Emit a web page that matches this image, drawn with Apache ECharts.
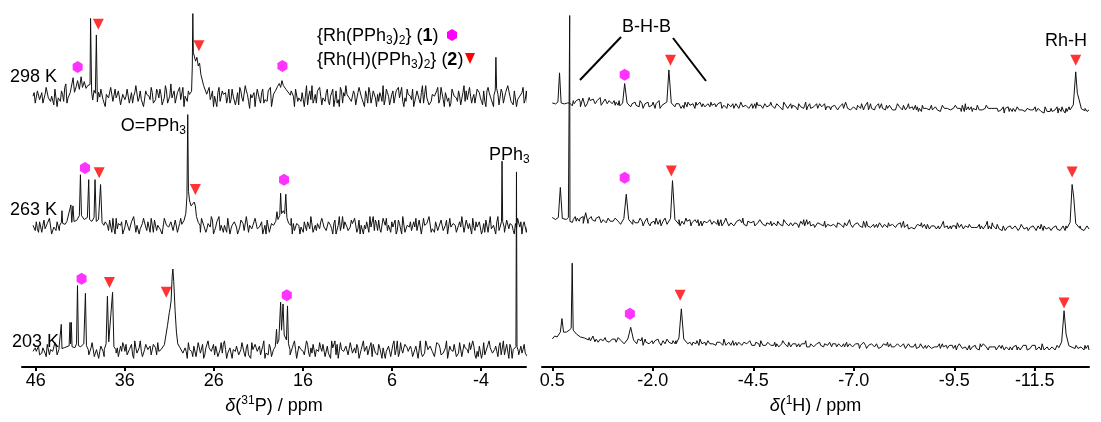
<!DOCTYPE html>
<html><head><meta charset="utf-8">
<script src="https://cdn.jsdelivr.net/npm/echarts@6/dist/echarts.min.js"></script>
<style>html,body{margin:0;padding:0;background:#fff}#c{width:1101px;height:422px}</style>
</head><body><div id="c"></div>
<script>
// ---------------- data ----------------
const pTicks = [46, 36, 26, 16, 6, -4];
const hTicks = [0.5, -2.0, -4.5, -7.0, -9.5, -11.5];
const pRange = [-9.05, 47.54];
const hRange = [-12.85, 0.756];
const pSpan = [46.3, -9.95];
const hSpan = [0.5, -12.85];
const tempLabels = ['298 K', '263 K', '203 K'];

// baseline noise, one char per point ('h' = 0); "b" strings sit between the "a" points
const noiseP298a = "hdkfjcmgeilbhkeogjdhmfcjkgeinhdlfbjhmegkcifldjhnekgbihmdfjlcgkeohdjmfbikgehlcjndgfkhbmeijgdlhfckeniagjhmdlfekbhjgcmifdkhlegjbnhfdikmcgjehlfdbkjnhgeicmhfkdjglbehnfjcidkmhegljfbhkdnigcejhmflbkgdjiehcnkfhgdljekbmhfigcldjnhekbgimfdhjl";
const noiseP298b = "jekgdilfhckgeimdhjfblhdkgejnfchkdigmelfjcihkedjmgfbkhfjdlgiendhgkcjfmheigldhkcjfmhbgjekidlfhcjmgdkeihblfjdgkmciegkhdjflbmgeihcknfdjhgelcjbkfmdhigekcjlfbhmdkgijeclhfkdjgmbeihlckfjdngcihkdmfjeblhgkcjefmdihlgcekjfbmhdjgikeclfhjdkgemb";
const noiseP263a = "hefjdkgilchjemfgdkiheljgcikfhdmgejhkdflihcgkejmdhfikegldjhfclhgjekdimfhejgckflhdigkejmhdflchjgekidmhfjlegchkdigmfhejdklifhcgjekmdhiflgejhckdmhfjegildkhcfjmgeikdlhegjfckimdhgejlfkchimdgjehlfkcgihejmdkfhlegjcikdmfhjegldkihcfmjhgekdl";
const noiseP263b = "gjdkhfilcgejhkdmgfidhklegcjfimdhgkejlcfhjdkgeimhcflgjdhkeifcmhgkdjelfichjgekdlhfjmcgkeihdlfhjcgkemdihlfgjdckeimhdgjfklceihgdkjfmcehjlgdkfichemjgdkhlfcihjdgmkefcjlhdgkeicmfhjdgekclhimfdjgkehclfjdhgmekicgjhkedlifhcmgjdkfheilgcjdkmfh";
const noiseP203a = "gihefjdkhgleicjhfmgdkigehjfldhcjgkeimhfdjlgehkcifmdhjgekilfhcgjdmhekifglhdjekfcimhgejdlkhficgjehmdkflhigejcfkdmhgjeilfdkhcjgemfikdhlgjefcimkdhgjelfikchmgejdlfkhicgjemhdlfkighejcmdflhjgekidfmchgjeldkifhmegjcldkifhgjemdlkcigejhfdkml";
const noiseP203b = "hgjdifkeghjdkhgleicfhkgdjeimfhgjdkhfleicgjkdhemfigdkhjfleghcijgkdhmefichgjdlfkehigkjdhfmcejhgkdlfiechkgjdmfeichljgdkfeimcjhgekdflhgikdjfmheclghjdkefichgjdlkfeichgjdkemfhilgjdhkcfemhjgdlkeficjgkdfmeihlgjcdkfeimhgjdlfekcihgjdfkeml";
const noiseH298a = "lkmjlikmjlkjlmkjmiklkliknjkmjljlkigjlhikjkihljhikgiljkgihjlhjgjikhgjkihjkikhigjhiihjkgihjihgjihkgiihjhgihjgkhiihgjhhkighgjhfihgkhjfhigjhgfihhgjfhigkghfhgihjfgkhgfhigjhfgihgfjhgifhggfihgegfhfighfgfjfghfgigfehjgfhgfifefgjfghfgefhgfefgehfgfegfefhfgefhefgefhgefdehfgehgfegef";
const noiseH298b = "jmkilnjkmlljkmikljnkmjlkikmjlkkijlhkjmihikjhlgjkhikgilhjikgjihkjgikhjhjgihkjhgikhjgikhjgihjhigkhijghgjkhigjhikhgjihfkhgjihgjhgifhghgjfigjhgfgihfhjgihfghfjgihgfjhfgjhgfighfghigfhgjfhgfegifghefghgeighffgfhfgiefhgegfhgfeigffghefgdfhgegfhefgefffgeghfdgfeefgdfhegefegfedgfhee";
const noiseH263a = "mlkmjlnkjllkjmlkjnklkjlkmjkiljkiljkhjlikjkhiljhkigijlhkgijhlhkjigjhlikihjkhgjihkhjikhgiljhighjkihgjihjgiklhgihgihjhgkihghgjhfikghjghfijhgfhifhgijgfhgkgfhighjfghfhgfijghfggifhgfjghffgehgifghegfhfegjfgfefgifhegfhfgefhgefjgegfhefgdfgfegfdhgefeegfeghdfefdfgefegdfefedgfefdge";
const noiseH263b = "lmjkmlkjnlkmljkmlkjmljkmikljkjjlkihkjlijkijhkgjlhijhkigjlhikijhkgihjkghkigjhkihjijhgkhijgihgjiklhgjiighjkhgihjhjgihgkhgigihfjhgkhghfgihgjfhgghfjhgigfhfhgigfhjgfgfhgjfhgifhgfgihfgefgefhgfhegffgegfhfgeggfehfgegfhefgfegfhefi" + "fegfdgefgeegdfgefdfgfdgefgedfeegfdefgdefdfegfdefge";
const noiseH203a = "kljkmjlkijkmjlkjlkjmjlkikljjkikjilkjhkjiijhkjlhijgjhikjgihkjhijgkihjhigihjkhigjhihgjihkghihgihjgihgjghihfjhgihhgfighjgfhgihgfhgjgfhfghigfhgifghgifhgfhgfhgefigfhhgfgefhgiffgehgfhefggfhefgegfhefgfhefgegfegfhgefdgefgedfhgefgefdgefegdefgdfegfdedfgefdgefdefdgefdegfdfegdfeged";
const noiseH203b = "ljkmkljkjlmkjlkmjklikjlikjlkijjkhljikjhkjhikjgkjhihjkigjhkijjhgikhjighihjgkhigjhhgijhgkhigjhgihgjhgihgihjgfhiggihfgjhgifhgfhgihfghgfhigfhgfihgfhgefighfgihgfhegfgfhefgigfhefghfegfhffgefhgfeggefgfehfgefgedfgefgedfgefhegfdefgdefgdfefdegfdefgdegfdeghdefdfedgfedfeedfgedfdeg";

// peaks: groups of [ppm, height above baseline], each in descending ppm
const peaksP298 = [
  [[41.95,2],[41.8,19],[41.65,4],[41.45,10],[41.3,16],[41.1,7],[40.9,20],[40.75,9],[40.55,15],[40.35,8],[40.15,11],[40.0,9],[39.9,12],[39.84,80],[39.72,4],[39.6,-4],[39.45,6],[39.3,3],[39.19,63],[39.08,-6],[38.95,4],[38.8,-1]],
  [[28.7,1],[28.5,5],[28.42,30],[28.36,85],[28.3,45],[28.2,43],[28.05,36],[27.9,40],[27.75,31],[27.6,34],[27.45,22],[27.3,20],[27.15,11],[27.0,9],[26.8,2],[26.6,0]],
  [[19.3,2],[19.05,6],[18.85,10],[18.65,13],[18.5,9],[18.35,16],[18.3,18],[18.2,11],[18.05,13],[17.9,7],[17.7,5],[17.4,1]],
  [[-5.45,1],[-5.6,6],[-5.67,40],[-5.75,8],[-5.9,2]]
];
const peaksP263 = [
  [[43.3,0],[43.12,3],[43.05,15],[42.98,2],[42.7,1],[42.5,4],[42.3,2],[42.05,21],[41.95,3],[41.82,20],[41.7,4],[41.4,5],[41.1,10],[40.98,52],[40.86,10],[40.55,6],[40.2,8],[40.05,47],[39.95,6],[39.7,4],[39.45,8],[39.34,47],[39.2,4],[38.95,6],[38.72,42],[38.55,3],[38.35,0]],
  [[29.6,1],[29.35,5],[29.15,12],[29.02,30],[28.93,114],[28.85,35],[28.72,25],[28.55,20],[28.38,18],[28.2,24],[28.08,20],[27.95,9],[27.75,3],[27.55,0]],
  [[19.3,0],[19.05,4],[18.91,14],[18.8,6],[18.6,10],[18.5,33],[18.4,12],[18.2,15],[18.05,12],[17.92,32],[17.8,8],[17.6,2],[17.35,0]],
  [[-6.15,0],[-6.3,4],[-6.36,66],[-6.43,4],[-6.6,-2]]
];
const peaksP203 = [
  [[43.4,0],[43.2,2],[43.13,26],[43.05,1],[42.8,2],[42.5,3],[42.25,4],[42.15,28],[42.08,6],[42.0,28],[41.92,3],[41.6,2],[41.42,6],[41.31,66],[41.2,4],[40.95,3],[40.6,6],[40.42,58],[40.3,4],[40.1,0]],
  [[38.3,0],[38.1,6],[37.95,55],[37.8,8],[37.6,6],[37.37,59],[37.22,3],[37.0,0]],
  [[31.8,0],[31.55,5],[31.45,11],[31.2,25],[31.0,38],[30.92,42],[30.8,50],[30.68,75],[30.6,83],[30.5,70],[30.35,40],[30.2,18],[30.05,6],[29.8,2],[29.6,0]],
  [[19.3,0],[19.1,3],[18.96,21],[18.88,6],[18.7,10],[18.5,49],[18.4,20],[18.23,47],[18.1,15],[17.85,10],[17.73,45],[17.62,6],[17.45,0]],
  [[-7.8,0],[-7.92,3],[-7.98,183],[-8.04,3],[-8.2,-2]]
];
const peaksH298 = [
  [[0.5,4],[0.42,3],[0.36,5],[0.32,35],[0.28,4],[0.2,3],[0.12,4],[0.07,4],[0.0,1]],
  [[-0.2,0],[-0.26,9],[-0.32,0]],
  [[-1.18,1],[-1.25,4],[-1.30,24],[-1.36,4],[-1.45,0]],
  [[-2.28,0],[-2.35,5],[-2.40,38],[-2.46,4],[-2.55,0]],
  [[-12.38,-4],[-12.46,2],[-12.52,36],[-12.56,14],[-12.6,8],[-12.66,-2],[-12.75,-4]]
];
const peaksH263 = [
  [[0.5,7],[0.42,5],[0.35,7],[0.3,38],[0.25,6],[0.15,5],[0.1,7],[0.075,5],[0.067,215],[0.06,3],[0.0,2]],
  [[-0.27,1],[-0.33,12],[-0.39,1]],
  [[-1.2,0],[-1.28,6],[-1.34,31],[-1.4,5],[-1.5,0]],
  [[-2.36,0],[-2.44,6],[-2.49,45],[-2.55,5],[-2.65,0]],
  [[-12.3,-4],[-12.38,2],[-12.43,41],[-12.47,28],[-12.52,1],[-12.62,-4]]
];
const peaksH203 = [
  [[0.5,5],[0.44,8],[0.38,7],[0.3,12],[0.26,26],[0.22,12],[0.15,12],[0.08,14],[0.03,16],[0.005,83],[-0.02,14],[-0.1,10],[-0.2,7],[-0.3,6],[-0.4,4]],
  [[-0.45,3],[-0.51,8],[-0.56,2]],
  [[-1.3,0],[-1.38,5],[-1.45,17],[-1.52,4],[-1.6,0]],
  [[-2.58,0],[-2.65,6],[-2.71,36],[-2.77,5],[-2.87,0]],
  [[-12.1,-4],[-12.17,2],[-12.23,34],[-12.28,10],[-12.35,-2],[-12.45,-4]]
];

// markers: [ppm, height above baseline]
const hexP298 = [[41.29,30],[18.30,31]];
const triP298 = [[38.97,74],[27.67,52]];
const hexP263 = [[40.47,59],[18.12,47]];
const triP263 = [[38.87,54],[28.07,37]];
const hexP203 = [[40.85,73],[17.81,56]];
const triP203 = [[37.72,69],[31.34,59]];
const hexH298 = [[-1.30,33]];
const triH298 = [[-2.44,48],[-12.52,48]];
const hexH263 = [[-1.30,48]];
const triH263 = [[-2.46,55],[-12.43,54]];
const hexH203 = [[-1.43,31]];
const triH203 = [[-2.68,50],[-12.23,42]];

// ---------------- layout ----------------
const AXIS_Y = 378;
const baseP = [99, 232, 360];   // baseline pixel rows (layout)
const baseH = [110, 231, 354];
const noiseGain = [1.8, 1.6];   // noise amplitude per panel (px per step)
const FONT = 'Liberation Sans, Arial, sans-serif';

function buildTrace(noiseA, noiseB, span, groups, basePx, gain) {
  const n = noiseA.length;
  const step = (span[0] - span[1]) / (n - 1);
  const off = AXIS_Y - basePx;
  const inGroup = x => groups.some(g => x <= g[0][0] && x >= g[g.length - 1][0]);
  const pts = [];
  for (let i = 0; i < n; i++) {
    const x = span[0] - i * step;
    if (!inGroup(x)) pts.push([x, (noiseA.charCodeAt(i) - 104) * gain]);
  }
  for (let i = 0; i < noiseB.length && i < n - 1; i++) {
    const x = span[0] - (i + 0.5) * step;
    if (!inGroup(x)) pts.push([x, (noiseB.charCodeAt(i) - 104) * gain]);
  }
  groups.forEach(g => g.forEach(p => pts.push([p[0], p[1]])));
  pts.sort((a, b) => b[0] - a[0]);
  return pts.map(p => [p[0], p[1] + off]);
}
function placeMarks(arr, basePx) {
  const off = AXIS_Y - basePx;
  return arr.map(p => [p[0], p[1] + off]);
}

const traces = [
  [noiseP298a, noiseP298b, pSpan, peaksP298, baseP[0], 0],
  [noiseP263a, noiseP263b, pSpan, peaksP263, baseP[1], 0],
  [noiseP203a, noiseP203b, pSpan, peaksP203, baseP[2], 0],
  [noiseH298a, noiseH298b, hSpan, peaksH298, baseH[0], 1],
  [noiseH263a, noiseH263b, hSpan, peaksH263, baseH[1], 1],
  [noiseH203a, noiseH203b, hSpan, peaksH203, baseH[2], 1]
];
const hexSets = [[hexP298, baseP[0], 0], [hexP263, baseP[1], 0], [hexP203, baseP[2], 0], [hexH298, baseH[0], 1], [hexH263, baseH[1], 1], [hexH203, baseH[2], 1]];
const triSets = [[triP298, baseP[0], 0], [triP263, baseP[1], 0], [triP203, baseP[2], 0], [triH298, baseH[0], 1], [triH263, baseH[1], 1], [triH203, baseH[2], 1]];

const HEX = 'path://M5,0 L10,3 L10,9 L5,12 L0,9 L0,3 Z';
const TRI = 'path://M0,0 L10,0 L5,11 Z';

const series = [];
traces.forEach(t => series.push({
  type: 'line', xAxisIndex: t[5], yAxisIndex: t[5],
  data: buildTrace(t[0], t[1], t[2], t[3], t[4], noiseGain[t[5]]),
  showSymbol: false, symbol: 'none', clip: false, silent: true,
  lineStyle: { color: '#111', width: 1 }
}));
hexSets.forEach(s => series.push({
  type: 'scatter', xAxisIndex: s[2], yAxisIndex: s[2], data: placeMarks(s[0], s[1]),
  symbol: HEX, symbolSize: [10, 12], itemStyle: { color: '#ff00ff' }, silent: true, clip: false
}));
triSets.forEach(s => series.push({
  type: 'scatter', xAxisIndex: s[2], yAxisIndex: s[2], data: placeMarks(s[0], s[1]),
  symbol: TRI, symbolSize: [11, 11], itemStyle: { color: '#ff0000' }, silent: true, clip: false
}));

const nameRich = {
  i: { fontStyle: 'italic', fontSize: 18, lineHeight: 22, fontFamily: FONT, color: '#000' },
  s: { fontSize: 12, lineHeight: 12, verticalAlign: 'top', fontFamily: FONT, color: '#000' }
};
function xAxisCfg(grid, range, ticks, dec, name) {
  return {
    type: 'value', gridIndex: grid, min: range[0], max: range[1], inverse: true,
    axisLine: { show: true, lineStyle: { color: '#000', width: 2 } },
    axisTick: { show: true, customValues: ticks, length: 4, lineStyle: { color: '#000', width: 2 } },
    axisLabel: { customValues: ticks, margin: 5, fontSize: 18, color: '#000', fontFamily: FONT,
      formatter: v => v.toFixed(dec) },
    splitLine: { show: false },
    name: name, nameLocation: 'middle', nameGap: 23,
    nameTextStyle: { fontSize: 18, lineHeight: 22, color: '#000', fontFamily: FONT, rich: nameRich }
  };
}

const txtRich = {
  sub: { fontSize: 12, lineHeight: 12, verticalAlign: 'bottom', fontFamily: FONT, fill: '#000' },
  b: { fontSize: 18, lineHeight: 22, fontWeight: 'bold', fontFamily: FONT, fill: '#000' }
};
function txt(x, y, s, align) {
  return { type: 'text', x: x, y: y, silent: true,
    style: { text: s, fontSize: 18, fontFamily: FONT, fill: '#000', lineHeight: 22,
      align: align || 'left', verticalAlign: 'middle', rich: txtRich } };
}

const graphic = [
  txt(10, 77, tempLabels[0]), txt(10, 210, tempLabels[1]), txt(12, 342, tempLabels[2]),
  txt(186, 126, 'O=PPh{sub|3}', 'right'),
  txt(489, 155, 'PPh{sub|3}'),
  txt(622, 27, 'B-H-B'),
  txt(1045, 41, 'Rh-H'),
  txt(317, 36, '{Rh(PPh{sub|3}){sub|2}} ({b|1})'),
  txt(317, 60, '{Rh(H)(PPh{sub|3}){sub|2}} ({b|2})'),
  { type: 'line', silent: true, shape: { x1: 580, y1: 80, x2: 621, y2: 37 }, style: { stroke: '#000', lineWidth: 2 } },
  { type: 'line', silent: true, shape: { x1: 673, y1: 38, x2: 706, y2: 81 }, style: { stroke: '#000', lineWidth: 2 } },
  { type: 'polygon', silent: true, shape: { points: [[452, 29], [457, 32], [457, 38], [452, 41], [447, 38], [447, 32]] }, style: { fill: '#ff00ff' } },
  { type: 'polygon', silent: true, shape: { points: [[465, 53], [475, 53], [470, 64]] }, style: { fill: '#ff0000' } }
];

const chart = echarts.init(document.getElementById('c'), null, { renderer: 'canvas' });
chart.setOption({
  animation: false,
  backgroundColor: '#fff',
  grid: [
    { left: 22, width: 504, top: 0, height: AXIS_Y },
    { left: 542, width: 547, top: 0, height: AXIS_Y }
  ],
  xAxis: [
    xAxisCfg(0, pRange, pTicks, 0, '{i|δ}({s|31}P) / ppm'),
    xAxisCfg(1, hRange, hTicks, 1, '{i|δ}({s|1}H) / ppm')
  ],
  yAxis: [
    { type: 'value', gridIndex: 0, min: 0, max: AXIS_Y, show: false },
    { type: 'value', gridIndex: 1, min: 0, max: AXIS_Y, show: false }
  ],
  series: series,
  graphic: graphic
});
</script></body></html>
